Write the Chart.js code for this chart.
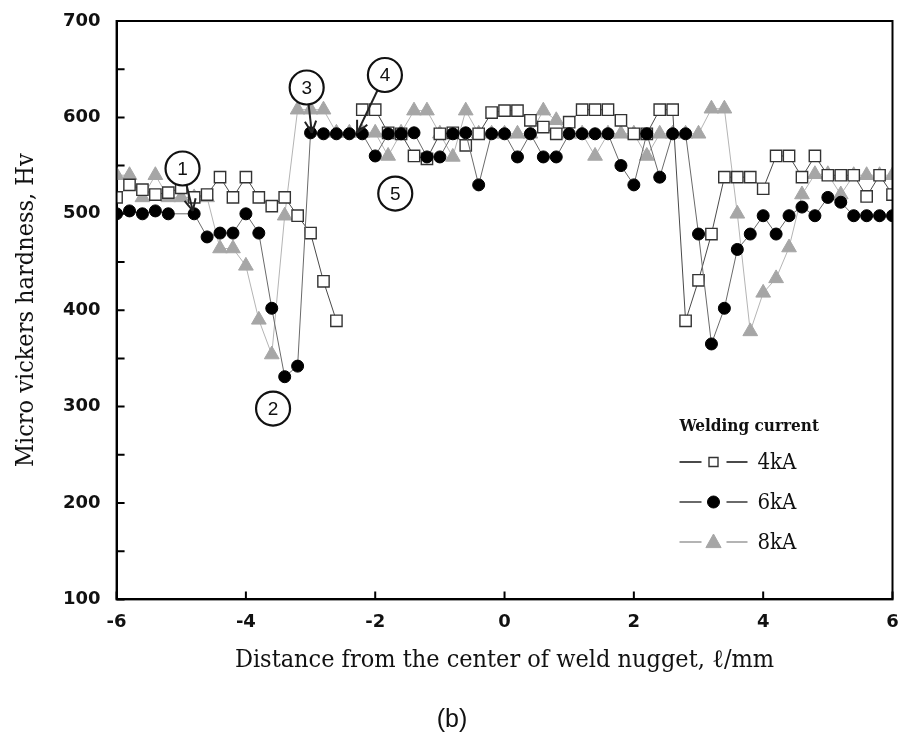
<!DOCTYPE html>
<html>
<head>
<meta charset="utf-8">
<script src="https://cdn.jsdelivr.net/npm/chart.js@4"></script>
<style>
  html, body { margin: 0; padding: 0; background: #fff; }
  #wrap { width: 902px; height: 744px; }
</style>
</head>
<body>
<div id="wrap"><canvas id="hardnessChart" width="902" height="744"></canvas></div>
<script>
// distance from nugget centre (mm), one reading every 0.2 mm
const positions = [
  -6.0, -5.8, -5.6, -5.4, -5.2, -5.0, -4.8, -4.6, -4.4, -4.2,
  -4.0, -3.8, -3.6, -3.4, -3.2, -3.0, -2.8, -2.6, -2.4, -2.2,
  -2.0, -1.8, -1.6, -1.4, -1.2, -1.0, -0.8, -0.6, -0.4, -0.2,
   0.0,  0.2,  0.4,  0.6,  0.8,  1.0,  1.2,  1.4,  1.6,  1.8,
   2.0,  2.2,  2.4,  2.6,  2.8,  3.0,  3.2,  3.4,  3.6,  3.8,
   4.0,  4.2,  4.4,  4.6,  4.8,  5.0,  5.2,  5.4,  5.6,  5.8,
   6.0
];

const hv4kA = [
  517, 530, 525, 520, 522, 527, 517, 520, 538, 517,
  538, 517, 508, 517, 498, 480, 430, 389, null, 608,
  608, 584, 583, 560, 557, 583, 584, 571, 583, 605,
  607, 607, 597, 590, 583, 595, 608, 608, 608, 597,
  583, 583, 608, 608, 389, 431, 479, 538, 538, 538,
  526, 560, 560, 538, 560, 540, 540, 540, 518, 540,
  520
];

const hv6kA = [
  500, 503, 500, 503, 500, null, 500, 476, 480, 480,
  500, 480, 402, 331, 342, 584, 583, 583, 583, 583,
  560, 583, 583, 584, 559, 559, 583, 584, 530, 583,
  583, 559, 583, 559, 559, 583, 583, 583, 583, 550,
  530, 583, 538, 583, 583, 479, 365, 402, 463, 479,
  498, 479, 498, 507, 498, 517, 512, 498, 498, 498,
  498
];

const hv8kA = [
  540, 540, 517, 540, 517, 517, 517, 517, 464, 464,
  446, 390, 354, 498, 608, 608, 608, 584, 584, 584,
  584, 560, 584, 607, 607, 583, 559, 607, 583, 583,
  583, 583, 583, 607, 597, 583, 583, 560, 583, 583,
  583, 560, 583, 583, 583, 583, 609, 609, 500, 378,
  418, 433, 465, 520, 541, 541, 520, 540, 540, 540,
  540
];

const seriesNames = ['4kA', '6kA', '8kA'];
const xTicks = [-6, -4, -2, 0, 2, 4, 6];

// circled markers from the figure: label, circle centre, optional arrow tip (data units)
const callouts = [
  { label: '1', x: -4.98, y: 547, tipX: -4.82, tipY: 503 },
  { label: '2', x: -3.58, y: 298 },
  { label: '3', x: -3.06, y: 631, tipX: -2.98, tipY: 584 },
  { label: '4', x: -1.85, y: 644, tipX: -2.28, tipY: 584 },
  { label: '5', x: -1.69, y: 521 }
];

function toPoints(values) {
  return positions.map((x, i) => ({ x: x, y: values[i] }));
}

function drawMarker(ctx, ds, x, y) {
  ctx.save();
  ctx.lineWidth = ds.pointBorderWidth;
  ctx.strokeStyle = ds.pointBorderColor;
  ctx.fillStyle = ds.pointBackgroundColor;
  const r = ds.legendRadius;
  ctx.beginPath();
  if (ds.pointStyle === 'rect') {
    ctx.rect(x - r, y - r, 2 * r, 2 * r);
  } else if (ds.pointStyle === 'triangle') {
    ctx.moveTo(x, y - r);
    ctx.lineTo(x + r * 0.95, y + r * 0.7);
    ctx.lineTo(x - r * 0.95, y + r * 0.7);
    ctx.closePath();
  } else {
    ctx.arc(x, y, r, 0, Math.PI * 2);
  }
  ctx.fill();
  ctx.stroke();
  ctx.restore();
}

const figurePlugin = {
  id: 'figureExtras',
  beforeDatasetsDraw(chart) {
    const { ctx, chartArea: a, scales } = chart;
    ctx.save();
    ctx.strokeStyle = '#000';
    ctx.lineWidth = 2;
    // inward ticks
    ctx.beginPath();
    scales.y.ticks.forEach(t => {
      const py = scales.y.getPixelForValue(t.value);
      ctx.moveTo(a.left, py);
      ctx.lineTo(a.left + 8, py);
    });
    scales.x.ticks.forEach(t => {
      const px = scales.x.getPixelForValue(t.value);
      ctx.moveTo(px, a.bottom);
      ctx.lineTo(px, a.bottom - 8);
    });
    ctx.stroke();
    ctx.restore();
  },
  afterDatasetsDraw(chart) {
    const { ctx, chartArea: a, scales } = chart;
    ctx.save();
    // frame
    ctx.strokeStyle = '#000';
    ctx.lineWidth = 2;
    ctx.strokeRect(a.left, a.top, a.right - a.left, a.bottom - a.top);

    // callouts
    callouts.forEach(c => {
      const cx = scales.x.getPixelForValue(c.x);
      const cy = scales.y.getPixelForValue(c.y);
      const r = 17;
      if (c.tipX !== undefined) {
        const tx = scales.x.getPixelForValue(c.tipX);
        const ty = scales.y.getPixelForValue(c.tipY);
        const ang = Math.atan2(ty - cy, tx - cx);
        const sx = cx + Math.cos(ang) * r;
        const sy = cy + Math.sin(ang) * r;
        ctx.strokeStyle = '#222';
        ctx.lineWidth = 2;
        ctx.beginPath();
        ctx.moveTo(sx, sy);
        ctx.lineTo(tx, ty);
        ctx.stroke();
        ctx.beginPath();
        ctx.moveTo(tx, ty);
        ctx.lineTo(tx - Math.cos(ang - 0.45) * 13, ty - Math.sin(ang - 0.45) * 13);
        ctx.moveTo(tx, ty);
        ctx.lineTo(tx - Math.cos(ang + 0.45) * 13, ty - Math.sin(ang + 0.45) * 13);
        ctx.stroke();
      }
      ctx.beginPath();
      ctx.arc(cx, cy, r, 0, Math.PI * 2);
      ctx.fillStyle = '#fff';
      ctx.fill();
      ctx.lineWidth = 2.2;
      ctx.strokeStyle = '#111';
      ctx.stroke();
      ctx.fillStyle = '#111';
      ctx.font = '19px "Liberation Sans", Arial, sans-serif';
      ctx.textAlign = 'center';
      ctx.textBaseline = 'middle';
      ctx.fillText(c.label, cx, cy + 1);
    });

    // legend inside plot
    const lx = a.right - 213;
    const ly = a.top + 406;
    ctx.fillStyle = '#111';
    ctx.font = 'bold 17px "DejaVu Serif Condensed", "Liberation Serif", serif';
    ctx.textAlign = 'left';
    ctx.textBaseline = 'middle';
    ctx.fillText('Welding current', lx, ly);
    [0, 1, 2].forEach((idx, row) => {
      const ds = chart.data.datasets[idx];
      const y = ly + 35 + row * 40;
      ctx.strokeStyle = ds.borderColor;
      ctx.lineWidth = 2;
      ctx.beginPath();
      ctx.moveTo(lx, y);
      ctx.lineTo(lx + 22, y);
      ctx.moveTo(lx + 47, y);
      ctx.lineTo(lx + 68, y);
      ctx.stroke();
      drawMarker(ctx, ds, lx + 34, y);
      ctx.fillStyle = '#111';
      ctx.font = '22px "DejaVu Serif Condensed", "Liberation Serif", serif';
      ctx.fillText(ds.label, lx + 78, y + 1);
    });
    ctx.restore();
  }
};

new Chart(document.getElementById('hardnessChart'), {
  type: 'scatter',
  data: {
    datasets: [
      {
        label: seriesNames[0],
        data: toPoints(hv4kA),
        showLine: true,
        spanGaps: false,
        borderColor: '#4a4a4a',
        borderWidth: 1,
        pointStyle: 'rect',
        pointRadius: 8,
        pointHoverRadius: 8,
        pointBorderColor: '#333',
        pointBorderWidth: 1.4,
        pointBackgroundColor: '#fff',
        legendRadius: 4.5,
        order: 1
      },
      {
        label: seriesNames[1],
        data: toPoints(hv6kA),
        showLine: true,
        spanGaps: true,
        borderColor: '#6a6a6a',
        borderWidth: 1,
        pointStyle: 'circle',
        pointRadius: 6,
        pointHoverRadius: 6,
        pointBorderColor: '#000',
        pointBorderWidth: 1,
        pointBackgroundColor: '#000',
        legendRadius: 6,
        order: 0
      },
      {
        label: seriesNames[2],
        data: toPoints(hv8kA),
        showLine: true,
        spanGaps: true,
        borderColor: '#b4b4b4',
        borderWidth: 1,
        pointStyle: 'triangle',
        pointRadius: 8.5,
        pointHoverRadius: 8.5,
        pointBorderColor: '#a6a6a6',
        pointBorderWidth: 1,
        pointBackgroundColor: '#a6a6a6',
        legendRadius: 8,
        order: 2
      }
    ]
  },
  options: {
    responsive: false,
    animation: false,
    events: [],
    layout: { padding: { top: 21, right: 9, left: 11, bottom: 9 } },
    plugins: {
      legend: { display: false },
      tooltip: { enabled: false },
      subtitle: {
        display: true,
        position: 'bottom',
        text: '(b)',
        color: '#111',
        font: { family: '"Liberation Sans", Arial, sans-serif', size: 25 },
        padding: { top: 30, bottom: 0 }
      }
    },
    scales: {
      x: {
        type: 'linear',
        min: -6,
        max: 6,
        afterBuildTicks: scale => { scale.ticks = xTicks.map(v => ({ value: v })); },
        // keep the end labels from pushing the plot edges inward
        afterFit: scale => { scale.paddingLeft = 0; scale.paddingRight = 0; },
        grid: { display: false, drawTicks: false },
        border: { display: true, color: '#000', width: 2 },
        ticks: {
          color: '#111',
          padding: 12,
          font: { family: '"DejaVu Sans", sans-serif', size: 18, weight: 'bold' }
        },
        title: {
          display: true,
          text: 'Distance from the center of weld nugget, \u2113/mm',
          color: '#111',
          font: { family: '"DejaVu Serif Condensed", "Liberation Serif", serif', size: 25 },
          padding: { top: 0, bottom: 0 }
        }
      },
      y: {
        min: 100,
        max: 700,
        afterFit: scale => { scale.paddingTop = 0; scale.paddingBottom = 0; },
        grid: { display: false, drawTicks: false },
        border: { display: true, color: '#000', width: 2 },
        ticks: {
          stepSize: 50,
          color: '#111',
          padding: 16,
          font: { family: '"DejaVu Sans", sans-serif', size: 18, weight: 'bold' },
          callback: v => (v % 100 === 0 ? v : '')
        },
        title: {
          display: true,
          text: 'Micro vickers hardness, Hv',
          color: '#111',
          font: { family: '"DejaVu Serif Condensed", "Liberation Serif", serif', size: 25 },
          padding: { top: 0, bottom: 6 }
        }
      }
    }
  },
  plugins: [figurePlugin]
});
</script>
</body>
</html>
